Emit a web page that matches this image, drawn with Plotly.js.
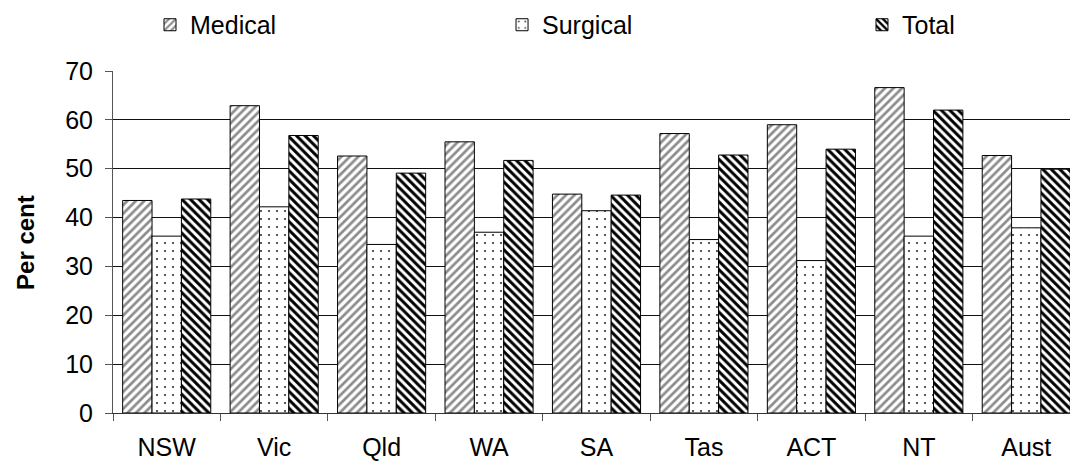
<!DOCTYPE html>
<html>
<head>
<meta charset="utf-8">
<script src="https://cdn.plot.ly/plotly-3.0.1.min.js"></script>
<style>
html,body{margin:0;padding:0;background:#fff;overflow:hidden;}
#chart{width:1070px;height:461px;}
</style>
</head>
<body>
<div id="chart"></div>
<script>
const categories = ["NSW","Vic","Qld","WA","SA","Tas","ACT","NT","Aust"];
const medical  = [43.5, 62.9, 52.6, 55.5, 44.8, 57.2, 59.0, 66.6, 52.7];
const surgical = [36.2, 42.2, 34.5, 37.0, 41.4, 35.5, 31.2, 36.2, 37.9];
const total    = [43.8, 56.8, 49.1, 51.7, 44.6, 52.8, 54.0, 62.0, 49.9];
const yTicks = [0,10,20,30,40,50,60,70];

const FONT = "Liberation Sans, Arial, sans-serif";

const traces = [
  {type:"bar", name:"Medical", x:categories, y:medical, legend:"legend",
   marker:{color:"#ffffff", line:{color:"#000", width:1},
     pattern:{shape:"/", fgcolor:"#8c8c8c", bgcolor:"#ffffff", size:6, solidity:0.45}}},
  {type:"bar", name:"Surgical", x:categories, y:surgical, legend:"legend2",
   marker:{color:"#ffffff", line:{color:"#000", width:1},
     pattern:{shape:".", fgcolor:"#333333", bgcolor:"#ffffff", size:8, solidity:0.06}}},
  {type:"bar", name:"Total", x:categories, y:total, legend:"legend3",
   marker:{color:"#ffffff", line:{color:"#000", width:1},
     pattern:{shape:"\\", fgcolor:"#000000", bgcolor:"#ffffff", size:6, solidity:0.5}}}
];

const legBase = {orientation:"h", xref:"container", yref:"container", yanchor:"middle", xanchor:"left",
  y:0.9458, bgcolor:"rgba(0,0,0,0)", borderwidth:0, font:{family:FONT, size:25, color:"#000"}};

const layout = {
  width:1070, height:461,
  margin:{l:113, r:0, t:71, b:48},
  paper_bgcolor:"#fff", plot_bgcolor:"#fff",
  font:{family:FONT, size:25, color:"#000"},
  barmode:"group", bargap:0.18, bargroupgap:0,
  showlegend:true,
  legend:Object.assign({}, legBase, {x:0.1402}),
  legend2:Object.assign({}, legBase, {x:0.4692}),
  legend3:Object.assign({}, legBase, {x:0.8056}),
  xaxis:{type:"category", range:[-0.5, 8.407], showline:true, linecolor:"#333", linewidth:1,
    ticks:"outside", tickson:"boundaries", ticklen:7, tickcolor:"#555", showgrid:false,
    ticklabelstandoff:12,
    tickfont:{family:FONT, size:25, color:"#000"}, fixedrange:true},
  yaxis:{range:[0,70], tickvals:yTicks, ticktext:yTicks.map(String), showline:true, linecolor:"#555", linewidth:1,
    ticks:"outside", ticklen:7, tickcolor:"#555", showgrid:true, gridcolor:"#111", gridwidth:1,
    ticklabelstandoff:7,
    zeroline:false, tickfont:{family:FONT, size:25, color:"#000"}, fixedrange:true},
  annotations:[{text:"<b>Per cent</b>", xref:"paper", yref:"paper", x:-0.092, y:0.5,
    xanchor:"center", yanchor:"middle", textangle:-90, showarrow:false,
    font:{family:FONT, size:24, color:"#000"}}]
};

Plotly.newPlot("chart", traces, layout, {displayModeBar:false, staticPlot:true});
</script>
</body>
</html>
